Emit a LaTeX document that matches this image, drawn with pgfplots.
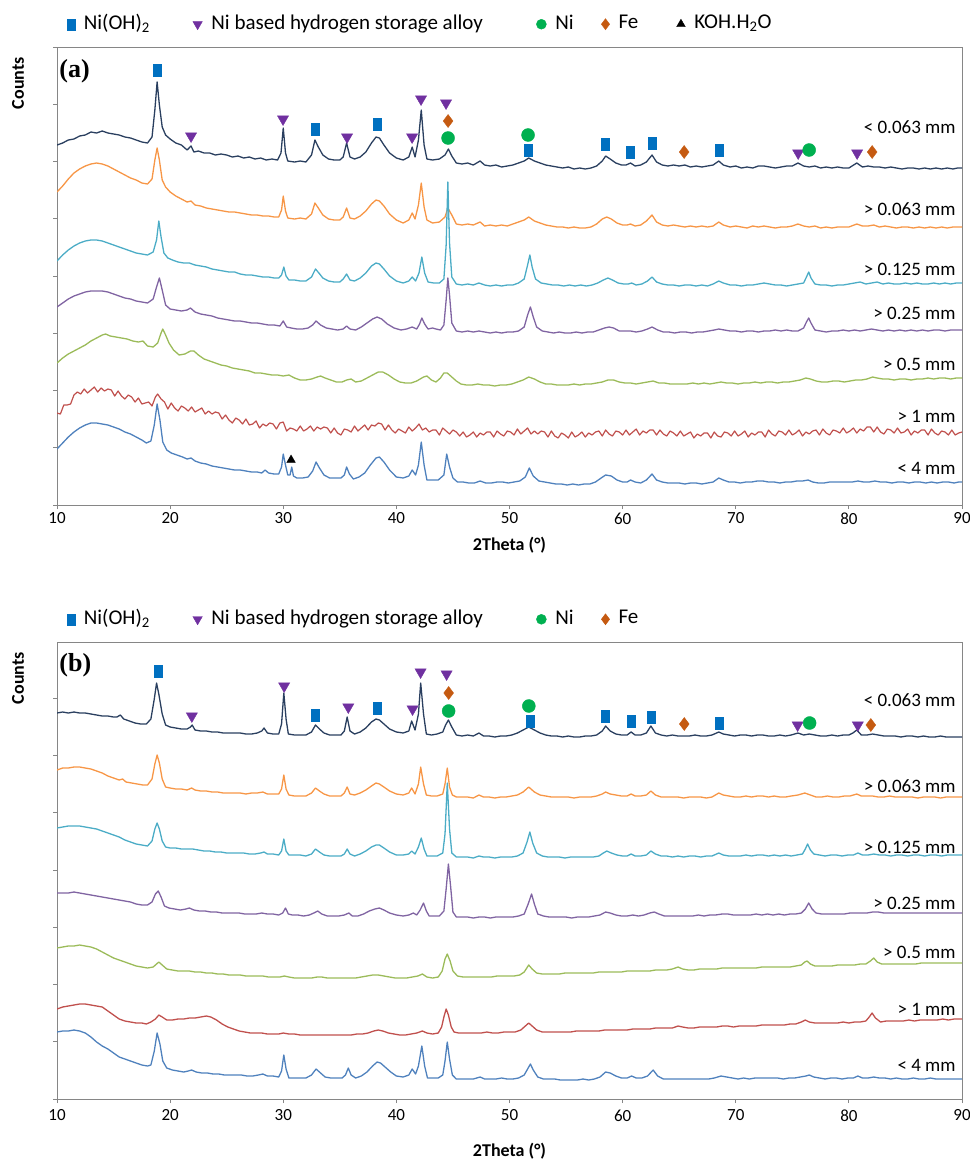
\documentclass[border=0pt]{standalone}
\usepackage{fontspec}
\setmainfont{Carlito}
\newfontfamily\timesfont{Liberation Serif}
\usepackage{pgfplots}
\pgfplotsset{compat=1.18}

\definecolor{cNavy}{HTML}{2A3F5F}
\definecolor{cOrange}{HTML}{F79646}
\definecolor{cAqua}{HTML}{4BACC6}
\definecolor{cPurple}{HTML}{8064A2}
\definecolor{cGreen}{HTML}{9BBB59}
\definecolor{cRed}{HTML}{C0504D}
\definecolor{cBlue}{HTML}{4F81BD}
\definecolor{mSq}{HTML}{0070C0}
\definecolor{mTri}{HTML}{7030A0}
\definecolor{mCirc}{HTML}{00B050}
\definecolor{mDia}{HTML}{C55A11}
\definecolor{axgray}{HTML}{868686}

\tikzset{lab/.style={anchor=east, font=\fontsize{19}{19}\selectfont, inner sep=0pt}}

\pgfplotsset{
  xrd/.style={
    scale only axis, width=905pt, height=458pt,
    xmin=10, xmax=90, ymin=0, ymax=458,
    xtick={10,20,...,90}, ytick={0,57.25,...,458}, yticklabels={},
    xtick pos=bottom, ytick pos=left, tick align=outside,
    major tick length=4pt,
    axis line style={axgray, line width=1pt},
    tick style={axgray, line width=0.8pt},
    /pgf/number format/assume math mode=true,
    xticklabel style={font=\fontsize{17}{17}\selectfont},
    xlabel={\textbf{2Theta (°)}},
    xlabel style={font=\fontsize{18}{18}\selectfont, at={(axis description cs:0.5,0)}, anchor=center},
    ylabel={\textbf{Counts}},
    ylabel style={font=\fontsize{18}{18}\selectfont, at={(axis description cs:-0.043,0.921)}, anchor=center},
    legend columns=-1,
    legend cell align=left,
    legend image code/.code={\draw[#1] plot coordinates {(0pt,-1.5pt)};},
    legend style={draw=none, fill=none, at={(axis description cs:0.011,1.053)}, anchor=west,
      font=\fontsize{21}{24}\selectfont, inner sep=0pt, nodes={inner sep=0pt},
      /tikz/every odd column/.append style={column sep=9pt},
      /tikz/every even column/.append style={column sep=0pt}},
  },
  trace/.style={line width=1.3pt, forget plot, line join=round},
  sqm/.style={only marks, forget plot, mark=square*, mark size=6pt, color=mSq, mark options={xscale=0.68}},
  trim/.style={only marks, forget plot, mark=triangle*, mark size=6.5pt, color=mTri, mark options={rotate=180}},
  cim/.style={only marks, forget plot, mark=*, mark size=6.5pt, color=mCirc},
  dim/.style={only marks, forget plot, mark=diamond*, mark size=6.5pt, color=mDia},
}

\begin{document}
\begin{tikzpicture}
\useasboundingbox (0,0) rectangle (970pt,-1163pt);

% ---------------- panel (a) ----------------
\begin{axis}[xrd, at={(57pt,-505pt)}, anchor=south west,
  xlabel style={yshift=-40pt}]

\addlegendimage{mark=square*, mark size=5.5pt, mark options={xscale=0.7}, color=mSq}
\addlegendentry{\makebox[109pt][l]{Ni(OH)\textsubscript{2}}}
\addlegendimage{mark=triangle*, mark size=5.5pt, mark options={rotate=180}, color=mTri}
\addlegendentry{\makebox[325pt][l]{Ni based hydrogen storage alloy}}
\addlegendimage{mark=*, mark size=5pt, color=mCirc}
\addlegendentry{\makebox[46pt][l]{Ni}}
\addlegendimage{mark=diamond*, mark size=5.5pt, color=mDia}
\addlegendentry{\makebox[58pt][l]{Fe}}
\addlegendimage{mark=triangle*, mark size=5pt, color=black}
\addlegendentry{KOH.H\textsubscript{2}O}

% < 0.063 mm
\addplot[trace, cNavy] coordinates {
(10,360)(10.5,362)(11,365)(11.5,366)(12,369)(12.5,370)(13,373)(13.5,372)(14,374)(14.5,372)(15,371)(15.5,370)
(16,368)(16.5,367)(17,365)(17.5,363)(18,362)(18.4,368)(18.65,395)(18.85,423)(19.05,400)(19.3,378)(19.6,370)
(20,366)(20.5,362)(21,360)(21.5,355)(21.85,359)(22.1,353)(22.5,354)(23,352)(23.5,352)(24,350)(24.5,351)
(25,350)(25.5,348)(26,349)(26.5,347)(27,348)(27.5,346)(28,347)(28.5,345)(29,346)(29.5,345)(29.8,352)(30,377)
(30.2,352)(30.4,344)(31,343)(31.5,344)(32,343)(32.5,350)(32.8,365)(33.1,358)(33.5,350)(34,346)(34.5,345)
(35,345)(35.3,348)(35.6,362)(35.9,348)(36.3,346)(36.8,348)(37.3,353)(37.8,362)(38.2,368)(38.5,367)(38.9,360)
(39.4,352)(40,347)(40.6,345)(41.1,348)(41.4,358)(41.65,348)(41.95,365)(42.2,395)(42.45,360)(42.7,346)
(43.2,345)(43.8,346)(44.3,350)(44.6,356)(44.9,349)(45.3,342)(45.8,341)(46.3,342)(46.8,340)(47.4,344)
(47.8,340)(48.3,339)(48.8,340)(49.3,338)(49.8,339)(50.3,340)(50.8,342)(51.3,344)(51.7,347)(52.2,344)
(52.7,342)(53.2,340)(53.7,339)(54.2,338)(54.7,337)(55.2,338)(55.7,336)(56.2,337)(56.7,336)(57.2,337)
(57.7,339)(58.2,344)(58.5,349)(58.9,346)(59.4,342)(59.9,340)(60.3,340)(60.7,342)(61.1,339)(61.6,340)
(62.1,343)(62.6,350)(63,343)(63.5,340)(64,339)(64.5,340)(65,339)(65.5,340)(66,338)(66.5,339)(67,338)
(67.5,339)(68,340)(68.5,344)(68.9,340)(69.5,338)(70,339)(70.5,337)(71,338)(71.5,337)(72,339)(72.5,339)
(73,338)(73.5,337)(74,338)(74.5,339)(75,339)(75.5,342)(76,339)(76.5,338)(77,339)(77.5,337)(78,338)
(78.5,337)(79,338)(79.5,337)(80,337)(80.7,342)(81.2,338)(81.7,339)(82.2,338)(82.7,338)(83.2,337)
(83.7,338)(84.2,337)(84.7,336)(85.2,337)(85.7,337)(86.2,336)(86.7,337)(87.2,336)(87.7,337)(88.2,336)
(88.7,337)(89.2,336)(89.6,337)(90,337)};

% > 0.063 mm
\addplot[trace, cOrange] coordinates {
(10,313)(10.5,319)(11,326)(11.5,332)(12,336)(12.5,339)(13,341)(13.5,342)(14,341)(14.5,339)(15,336)(15.5,333)
(16,330)(16.5,327)(17,325)(17.5,322)(18,321)(18.4,326)(18.65,345)(18.85,357)(19.05,345)(19.3,325)(19.6,318)
(20,313)(20.5,309)(21,306)(21.5,303)(21.85,304)(22.2,300)(22.7,299)(23.2,297)(23.7,296)(24.2,295)(24.7,294)
(25.2,293)(25.7,293)(26.2,292)(26.7,291)(27.2,290)(27.7,290)(28.2,289)(28.7,289)(29.2,288)(29.6,288)
(29.85,295)(30,309)(30.2,294)(30.4,287)(31,286)(31.5,287)(32,286)(32.5,291)(32.8,302)(33.1,297)(33.5,290)
(34,286)(34.5,285)(35,285)(35.3,288)(35.6,297)(35.9,287)(36.3,286)(36.8,289)(37.3,294)(37.8,301)(38.2,305)
(38.5,304)(38.9,299)(39.4,291)(40,285)(40.6,282)(41.1,285)(41.4,292)(41.65,286)(41.95,300)(42.2,322)
(42.45,298)(42.7,285)(43.2,282)(43.8,283)(44.3,288)(44.55,297)(44.9,290)(45.3,281)(45.8,280)(46.3,281)
(46.8,280)(47.4,283)(47.8,279)(48.3,280)(48.8,279)(49.3,280)(49.8,279)(50.3,281)(50.8,283)(51.3,285)
(51.7,288)(52.2,284)(52.7,282)(53.2,280)(53.7,279)(54.2,278)(54.7,278)(55.2,277)(55.7,278)(56.2,277)
(56.7,277)(57.2,278)(57.7,281)(58.2,286)(58.6,288)(59,286)(59.5,282)(60,280)(60.4,280)(60.7,281)(61.1,279)
(61.6,280)(62.1,284)(62.6,290)(63,283)(63.5,280)(64,279)(64.5,280)(65,279)(65.5,278)(66,279)(66.5,278)
(67,279)(67.5,278)(68,279)(68.5,283)(68.9,280)(69.5,278)(70,279)(70.5,278)(71,277)(71.5,279)(72,278)
(72.5,279)(73,278)(73.5,277)(74,278)(74.5,278)(75,279)(75.5,281)(76,279)(76.5,278)(77,279)(77.5,277)
(78,278)(78.5,277)(79,278)(79.5,278)(80,278)(80.7,281)(81.2,279)(81.7,279)(82.2,280)(82.7,278)(83.2,279)
(83.7,278)(84.2,277)(84.7,278)(85.2,278)(85.7,277)(86.2,278)(86.7,277)(87.2,278)(87.7,277)(88.2,278)
(88.7,277)(89.2,278)(89.6,278)(90,278)};

% > 0.125 mm
\addplot[trace, cAqua] coordinates {
(10,244)(10.5,250)(11,255)(11.5,259)(12,262)(12.5,264)(13,265)(13.5,265)(14,264)(14.5,262)(15,260)(15.5,258)
(16,256)(16.5,254)(17,252)(17.5,251)(18,250)(18.5,253)(18.8,265)(19,284)(19.2,268)(19.45,252)(19.8,247)
(20.2,245)(20.7,243)(21.2,242)(21.7,242)(22.2,240)(22.7,239)(23.2,238)(23.7,236)(24.2,235)(24.7,234)
(25.2,233)(25.7,233)(26.2,231)(26.7,230)(27.2,230)(27.7,229)(28.2,228)(28.7,228)(29.2,227)(29.6,227)
(29.85,230)(30.05,238)(30.25,229)(30.5,225)(31,225)(31.5,224)(32,224)(32.5,228)(32.85,236)(33.15,232)
(33.5,227)(34,224)(34.5,223)(35,223)(35.3,226)(35.6,231)(35.9,225)(36.3,224)(36.8,227)(37.3,232)(37.8,239)
(38.2,242)(38.5,241)(38.9,236)(39.4,229)(40,224)(40.6,222)(41.1,224)(41.4,228)(41.7,224)(42,232)(42.25,248)
(42.5,232)(42.8,223)(43.3,222)(43.8,222)(44.2,226)(44.4,260)(44.55,323)(44.7,262)(44.9,228)(45.3,221)
(45.8,220)(46.3,221)(46.8,220)(47.3,222)(47.8,220)(48.3,219)(48.8,220)(49.3,219)(49.8,220)(50.3,220)
(50.8,222)(51.3,226)(51.6,240)(51.8,250)(52,238)(52.3,226)(52.8,222)(53.3,221)(53.8,220)(54.3,220)
(54.8,219)(55.3,220)(55.8,219)(56.3,220)(56.8,219)(57.3,220)(57.8,222)(58.3,225)(58.7,227)(59.1,225)
(59.6,222)(60.1,221)(60.5,221)(60.8,222)(61.2,220)(61.7,221)(62.2,224)(62.6,228)(63,223)(63.5,221)(64,220)
(64.5,220)(65,219)(65.5,220)(66,220)(66.5,219)(67,220)(67.5,219)(68,221)(68.5,224)(68.9,222)(69.5,220)
(70,220)(70.5,219)(71,220)(71.5,220)(72,221)(72.5,222)(73,221)(73.5,220)(74,220)(74.5,219)(75,220)
(75.5,221)(76,222)(76.25,228)(76.45,233)(76.65,227)(77,221)(77.5,220)(78,220)(78.5,219)(79,220)(79.5,220)
(80,221)(80.5,222)(81,223)(81.5,221)(82,222)(82.5,223)(83,221)(83.5,222)(84,221)(84.5,221)(85,222)
(85.5,221)(86,222)(86.5,221)(87,221)(87.5,222)(88,221)(88.5,222)(89,221)(89.5,222)(90,222)};

% > 0.25 mm
\addplot[trace, cPurple] coordinates {
(10,198)(10.5,202)(11,206)(11.5,209)(12,211)(12.5,213)(13,214)(13.5,214)(14,214)(14.5,213)(15,211)(15.5,209)
(16,207)(16.5,206)(17,204)(17.5,203)(18,202)(18.5,206)(18.8,218)(19.05,227)(19.3,215)(19.6,200)(20,196)
(20.5,195)(21,194)(21.5,195)(21.8,197)(22.2,193)(22.7,191)(23.2,190)(23.7,189)(24.2,187)(24.7,186)
(25.2,185)(25.7,184)(26.2,184)(26.7,183)(27.2,182)(27.7,182)(28.2,181)(28.7,180)(29.2,180)(29.7,179)
(30,184)(30.3,178)(30.7,177)(31.2,176)(31.7,176)(32.2,177)(32.6,180)(32.9,184)(33.3,180)(33.8,177)
(34.3,176)(34.8,175)(35.3,176)(35.6,179)(35.9,176)(36.4,175)(36.9,178)(37.4,182)(37.9,186)(38.3,188)
(38.7,186)(39.2,181)(39.8,177)(40.4,175)(40.9,176)(41.4,178)(41.8,176)(42.05,181)(42.25,187)(42.5,181)
(42.8,176)(43.2,177)(43.5,176)(43.9,175)(44.2,180)(44.4,205)(44.55,227)(44.7,210)(44.9,182)(45.3,174)
(45.8,173)(46.3,174)(46.8,173)(47.3,174)(47.8,173)(48.3,172)(48.8,173)(49.3,172)(49.8,173)(50.3,173)
(50.8,174)(51.3,178)(51.6,190)(51.85,198)(52.1,188)(52.4,178)(52.9,174)(53.4,173)(53.9,172)(54.4,173)
(54.9,172)(55.4,172)(55.9,173)(56.4,172)(56.9,173)(57.4,173)(57.9,175)(58.4,177)(58.8,178)(59.2,177)
(59.7,174)(60.2,174)(60.7,174)(61.2,173)(61.7,174)(62.2,176)(62.6,178)(63.1,175)(63.6,173)(64.1,173)
(64.6,172)(65.1,173)(65.6,173)(66.1,172)(66.6,173)(67.1,173)(67.6,174)(68.1,175)(68.5,176)(69,175)
(69.5,174)(70,174)(70.5,173)(71,174)(71.5,174)(72,173)(72.5,174)(73,174)(73.5,175)(74,174)(74.5,175)
(75,174)(75.5,174)(76,177)(76.25,183)(76.45,187)(76.65,182)(77,175)(77.5,174)(78,173)(78.5,174)(79,174)
(79.5,175)(80,174)(80.5,175)(81,174)(81.5,175)(82,176)(82.5,175)(83,174)(83.5,175)(84,174)(84.5,175)
(85,174)(85.5,175)(86,174)(86.5,175)(87,174)(87.5,175)(88,175)(88.5,174)(89,175)(89.5,175)(90,175)};

% > 0.5 mm
\addplot[trace, cGreen] coordinates {
(10,142)(10.5,147)(11,151)(11.5,154)(12,157)(12.5,160)(13,164)(13.5,167)(14,170)(14.3,171)(14.7,169)
(15.2,168)(15.7,167)(16.2,166)(16.7,164)(17.2,163)(17.6,164)(18,159)(18.5,158)(18.9,162)(19.2,172)
(19.35,176)(19.6,170)(19.9,162)(20.3,155)(20.8,150)(21.3,151)(21.8,154)(22.1,154)(22.5,150)(23,146)
(23.5,144)(24,142)(24.5,140)(25,139)(25.5,137)(26,136)(26.5,135)(27,134)(27.5,132)(28,132)(28.5,131)
(29,130)(29.5,130)(30,129)(30.5,130)(31,127)(31.5,125)(32,125)(32.5,126)(33,128)(33.3,129)(33.7,127)
(34.2,125)(34.7,123)(35.2,123)(35.6,125)(36,126)(36.4,123)(36.9,124)(37.4,127)(37.9,130)(38.4,133)
(38.8,133)(39.3,130)(39.8,126)(40.3,123)(40.8,122)(41.3,122)(41.8,124)(42.4,128)(42.7,129)(43.1,125)
(43.5,123)(43.9,127)(44.2,132)(44.5,132)(44.9,128)(45.3,124)(45.7,121)(46.2,120)(46.7,120)(47.2,121)
(47.7,120)(48.2,120)(48.7,119)(49.2,120)(49.7,120)(50.2,121)(50.7,123)(51.2,125)(51.7,128)(52.2,126)
(52.7,123)(53.2,121)(53.7,121)(54.2,120)(54.7,120)(55.2,120)(55.7,121)(56.2,120)(56.7,121)(57.2,121)
(57.7,122)(58.2,123)(58.7,125)(59.2,125)(59.7,123)(60.2,122)(60.7,122)(61.2,121)(61.7,122)(62.2,123)
(62.7,124)(63.2,122)(63.7,122)(64.2,121)(64.7,121)(65.2,121)(65.7,121)(66.2,122)(66.7,121)(67.2,122)
(67.7,121)(68.2,122)(68.7,123)(69.2,122)(69.7,122)(70.2,121)(70.7,122)(71.2,122)(71.7,123)(72.2,122)
(72.7,123)(73.2,123)(73.7,122)(74.2,123)(74.7,123)(75.2,124)(75.7,125)(76.2,127)(76.6,126)(77.1,124)
(77.6,123)(78.1,123)(78.6,124)(79.1,124)(79.6,123)(80.1,124)(80.6,125)(81.1,125)(81.6,126)(82.1,128)
(82.5,127)(83,126)(83.5,126)(84,125)(84.5,126)(85,126)(85.5,125)(86,126)(86.5,126)(87,127)(87.5,126)
(88,127)(88.5,127)(89,126)(89.5,127)(90,127)};

% > 1 mm
\addplot[trace, cRed, line width=1.2pt] coordinates {
(10,92)(10.3,91)(10.6,100)(10.9,100)(11.2,101)(11.5,110)(11.8,113)(12.1,111)(12.4,116)(12.7,112)(13,115)
(13.3,118)(13.6,113)(13.9,117)(14.2,114)(14.5,116)(14.8,115)(15.1,109)(15.4,114)(15.7,109)(16,106)(16.3,110)
(16.6,108)(16.9,103)(17.2,107)(17.5,101)(17.8,102)(18.1,103)(18.4,99)(18.7,108)(18.9,111)(19.2,106)(19.5,103)
(19.8,96)(20.1,102)(20.4,97)(20.7,94)(21,99)(21.3,97)(21.6,94)(21.9,98)(22.2,93)(22.5,95)(22.8,97)(23.1,91)
(23.4,94)(23.7,91)(24,93)(24.3,92)(24.6,86)(24.9,90)(25.2,85)(25.5,82)(25.8,87)(26.1,85)(26.4,81)(26.7,86)
(27,80)(27.3,81)(27.6,84)(27.9,77)(28.2,81)(28.5,79)(28.8,82)(29.1,81)(29.4,76)(29.7,82)(30,83)(30.3,74)
(30.6,77)(30.9,76)(31.2,74)(31.5,79)(31.8,74)(32.1,76)(32.4,79)(32.7,74)(33,78)(33.3,76)(33.6,78)(33.9,77)
(34.2,72)(34.5,77)(34.8,72)(35.1,70)(35.4,76)(35.7,75)(36,73)(36.3,79)(36.6,74)(36.9,77)(37.2,80)(37.5,75)
(37.8,80)(38.1,79)(38.4,82)(38.7,81)(39,75)(39.3,80)(39.6,75)(39.9,72)(40.2,76)(40.5,74)(40.8,72)(41.1,78)
(41.4,74)(41.7,77)(42,81)(42.3,75)(42.6,77)(42.9,73)(43.2,75)(43.5,75)(43.8,70)(44.1,77)(44.4,74)(44.7,71)
(45,75)(45.3,73)(45.6,69)(45.9,73)(46.2,68)(46.5,70)(46.8,73)(47.1,68)(47.4,72)(47.7,70)(48,73)(48.3,73)
(48.6,68)(48.9,74)(49.2,71)(49.5,69)(49.8,74)(50.1,73)(50.4,70)(50.7,76)(51,71)(51.3,74)(51.6,77)(51.9,71)
(52.2,74)(52.5,71)(52.8,74)(53.1,73)(53.4,68)(53.7,74)(54,69)(54.3,67)(54.6,72)(54.9,70)(55.2,67)(55.5,73)
(55.8,68)(56.1,70)(56.4,73)(56.7,68)(57,72)(57.3,70)(57.6,73)(57.9,74)(58.2,69)(58.5,75)(58.8,71)(59.1,69)
(59.4,74)(59.7,73)(60,70)(60.3,75)(60.6,70)(60.9,73)(61.2,76)(61.5,70)(61.8,74)(62.1,72)(62.4,75)(62.7,75)
(63,70)(63.3,75)(63.6,71)(63.9,69)(64.2,74)(64.5,72)(64.8,69)(65.1,74)(65.4,69)(65.7,71)(66,73)(66.3,67)
(66.6,71)(66.9,69)(67.2,72)(67.5,72)(67.8,67)(68.1,73)(68.4,69)(68.7,68)(69,73)(69.3,72)(69.6,69)(69.9,74)
(70.2,69)(70.5,71)(70.8,74)(71.1,68)(71.4,72)(71.7,70)(72,73)(72.3,73)(72.6,68)(72.9,75)(73.2,71)(73.5,69)
(73.8,74)(74.1,73)(74.4,70)(74.7,75)(75,70)(75.3,72)(75.6,75)(75.9,69)(76.2,73)(76.5,71)(76.8,74)(77.1,75)
(77.4,70)(77.7,76)(78,72)(78.3,70)(78.6,75)(78.9,74)(79.2,72)(79.5,77)(79.8,72)(80.1,74)(80.4,77)(80.7,72)
(81,76)(81.3,74)(81.6,78)(81.9,78)(82.2,73)(82.5,78)(82.8,73)(83.1,71)(83.4,76)(83.7,75)(84,72)(84.3,77)
(84.6,72)(84.9,73)(85.2,76)(85.5,70)(85.8,74)(86.1,72)(86.4,75)(86.7,75)(87,70)(87.3,76)(87.6,72)(87.9,70)
(88.2,74)(88.5,73)(88.8,70)(89.1,75)(89.4,70)(89.7,72)(90,73)};

% < 4 mm
\addplot[trace, cBlue] coordinates {
(10,56)(10.5,62)(11,68)(11.5,73)(12,77)(12.5,80)(13,82)(13.5,82)(14,81)(14.5,80)(15,78)(15.5,76)(16,73)
(16.5,71)(17,68)(17.5,65)(17.9,62)(18.3,64)(18.6,80)(18.85,101)(19.1,85)(19.35,63)(19.7,55)(20.1,52)
(20.6,50)(21.1,48)(21.5,46)(21.85,47)(22.2,44)(22.7,42)(23.2,41)(23.7,39)(24.2,38)(24.7,37)(25.2,36)
(25.7,35)(26.2,35)(26.7,34)(27.2,33)(27.7,33)(28.1,32)(28.4,35)(28.7,32)(29.2,31)(29.6,31)(29.85,38)
(30,51)(30.2,40)(30.4,30)(30.6,30)(30.75,38)(30.9,29)(31.2,27)(31.7,27)(32.2,28)(32.6,34)(32.9,43)
(33.2,37)(33.6,30)(34.1,27)(34.6,27)(35.1,27)(35.4,30)(35.6,38)(35.85,31)(36.2,26)(36.7,28)(37.2,32)
(37.7,40)(38.2,47)(38.5,48)(38.9,43)(39.4,35)(40,28)(40.6,27)(41.1,29)(41.4,35)(41.7,30)(41.95,40)
(42.2,63)(42.45,40)(42.7,25)(43.2,25)(43.7,25)(44.2,30)(44.45,51)(44.7,38)(45,27)(45.4,23)(45.9,23)
(46.4,22)(46.9,22)(47.4,24)(47.9,22)(48.4,22)(48.9,23)(49.4,23)(49.9,22)(50.4,23)(50.9,24)(51.4,28)
(51.75,37)(52.1,29)(52.6,24)(53.1,23)(53.6,22)(54.1,21)(54.6,21)(55.1,20)(55.6,21)(56.1,20)(56.6,21)
(57.1,21)(57.6,23)(58.1,27)(58.5,30)(59,29)(59.5,25)(60,23)(60.4,23)(60.7,25)(61.1,23)(61.6,22)(62.1,25)
(62.6,31)(63,25)(63.5,23)(64,22)(64.5,22)(65,22)(65.5,21)(66,22)(66.5,22)(67,21)(67.5,22)(68,23)
(68.5,27)(68.9,25)(69.4,23)(69.9,23)(70.4,22)(70.9,23)(71.4,23)(71.9,24)(72.4,24)(72.9,23)(73.4,23)
(73.9,22)(74.4,23)(74.9,23)(75.4,24)(75.9,24)(76.4,25)(76.8,23)(77.3,22)(77.8,22)(78.3,23)(78.8,23)
(79.3,23)(79.8,23)(80.3,23)(80.8,24)(81.3,23)(81.8,23)(82.3,24)(82.8,23)(83.3,23)(83.8,22)(84.3,23)
(84.8,23)(85.3,22)(85.8,23)(86.3,23)(86.8,22)(87.3,23)(87.8,22)(88.3,23)(88.8,23)(89.3,22)(89.7,23)(90,23)};

% phase markers (a)
\addplot[sqm] coordinates {(18.88,435)(32.81,376)(38.29,381)(51.64,355)(58.45,361)(60.66,353)(62.61,362)(68.53,355)};
\addplot[trim] coordinates {(21.85,369)(29.98,386)(35.64,368)(41.39,368)(42.18,406)(44.39,402)(75.52,352)(80.73,352)};
\addplot[cim] coordinates {(44.57,367)(51.64,370)(76.49,355)};
\addplot[dim] coordinates {(44.57,384)(65.44,353)(82.06,353)};
\addplot[only marks, forget plot, mark=triangle*, mark size=5pt, black] coordinates {(30.69,45)};

\node[anchor=west, inner sep=0pt, font=\timesfont\bfseries\fontsize{26}{26}\selectfont] at (axis cs:10.2,434) {(a)};
\node[lab] at (axis cs:89.45,378) {< 0.063 mm};
\node[lab] at (axis cs:89.45,296) {> 0.063 mm};
\node[lab] at (axis cs:89.45,236) {> 0.125 mm};
\node[lab] at (axis cs:89.45,192) {> 0.25 mm};
\node[lab] at (axis cs:89.45,141) {> 0.5 mm};
\node[lab] at (axis cs:89.45,89) {> 1 mm};
\node[lab] at (axis cs:89.45,37) {< 4 mm};
\end{axis}

% ---------------- panel (b) ----------------
\begin{axis}[xrd, at={(57pt,-1099pt)}, anchor=south west, height=457pt, ymax=457,
  xticklabel style={yshift=-3pt}, xlabel style={yshift=-52pt}]

\addlegendimage{mark=square*, mark size=5.5pt, mark options={xscale=0.7}, color=mSq}
\addlegendentry{\makebox[109pt][l]{Ni(OH)\textsubscript{2}}}
\addlegendimage{mark=triangle*, mark size=5.5pt, mark options={rotate=180}, color=mTri}
\addlegendentry{\makebox[325pt][l]{Ni based hydrogen storage alloy}}
\addlegendimage{mark=*, mark size=5pt, color=mCirc}
\addlegendentry{\makebox[46pt][l]{Ni}}
\addlegendimage{mark=diamond*, mark size=5.5pt, color=mDia}
\addlegendentry{Fe}

% < 0.063 mm
\addplot[trace, cNavy] coordinates {
(10,386)(10.5,387)(11,386)(11.5,387)(12,386)(12.5,386)(13,385)(13.5,384)(14,383)(14.5,383)(15,382)(15.3,382)
(15.6,384)(15.9,380)(16.4,378)(16.9,376)(17.4,375)(17.9,375)(18.3,380)(18.6,400)(18.8,416)(19,405)(19.3,385)
(19.6,374)(20,372)(20.5,371)(21,370)(21.5,370)(21.8,372)(21.95,374)(22.2,369)(22.7,368)(23.2,368)(23.7,367)
(24.2,367)(24.7,366)(25.2,366)(25.7,366)(26.2,366)(26.7,365)(27.2,365)(27.7,366)(28.1,368)(28.3,371)
(28.6,366)(29.1,365)(29.6,365)(29.85,375)(30.05,406)(30.25,380)(30.45,365)(31,364)(31.5,364)(32,364)
(32.5,367)(32.85,374)(33.2,370)(33.6,366)(34.1,364)(34.6,364)(35.1,364)(35.4,368)(35.65,382)(35.9,368)
(36.3,365)(36.8,367)(37.3,371)(37.8,377)(38.2,380)(38.5,379)(38.9,375)(39.4,370)(40,367)(40.6,366)
(41.1,368)(41.35,378)(41.65,369)(41.95,385)(42.15,416)(42.4,385)(42.65,365)(43.1,364)(43.6,365)(44.1,367)
(44.35,374)(44.6,379)(44.9,372)(45.3,364)(45.8,363)(46.3,364)(46.8,363)(47.3,366)(47.7,363)(48.2,363)
(48.7,362)(49.2,363)(49.7,363)(50.2,364)(50.7,366)(51.2,369)(51.7,372)(52.2,369)(52.7,366)(53.2,364)
(53.7,363)(54.2,363)(54.7,362)(55.2,363)(55.7,362)(56.2,362)(56.7,363)(57.2,363)(57.7,364)(58.2,368)
(58.5,373)(58.9,368)(59.4,365)(59.9,364)(60.4,364)(60.75,367)(61.1,364)(61.6,364)(62.1,366)(62.5,373)
(62.9,366)(63.4,364)(63.9,363)(64.4,364)(64.9,363)(65.4,363)(65.9,363)(66.4,364)(66.9,363)(67.4,363)
(67.9,364)(68.5,367)(68.9,365)(69.4,364)(69.9,363)(70.4,364)(70.9,364)(71.4,363)(71.9,364)(72.4,364)
(72.9,363)(73.4,363)(73.9,364)(74.4,363)(74.9,364)(75.5,366)(76,364)(76.5,365)(77,364)(77.5,363)(78,363)
(78.5,364)(79,363)(79.5,364)(80,364)(80.35,366)(80.7,369)(81.1,364)(81.6,364)(82.1,365)(82.6,364)
(83.1,363)(83.6,363)(84.1,363)(84.6,362)(85.1,363)(85.6,363)(86.1,362)(86.6,363)(87.1,362)(87.6,362)
(88.1,363)(88.6,362)(89.1,362)(89.6,362)(90,362)};

% > 0.063 mm
\addplot[trace, cOrange] coordinates {
(10,329)(10.5,331)(11,331)(11.5,332)(12,332)(12.5,331)(13,330)(13.5,328)(14,326)(14.5,323)(15,321)(15.5,319)
(15.8,320)(16.1,317)(16.6,316)(17.1,315)(17.6,314)(18,314)(18.4,320)(18.65,335)(18.85,344)(19.05,336)
(19.3,320)(19.6,312)(20,311)(20.5,310)(21,310)(21.5,309)(21.9,311)(22.2,309)(22.7,308)(23.2,308)(23.7,307)
(24.2,307)(24.7,306)(25.2,306)(25.7,306)(26.2,306)(26.7,305)(27.2,306)(27.7,306)(28.2,307)(28.6,305)
(29.1,305)(29.6,305)(29.85,310)(30.05,324)(30.25,310)(30.5,304)(31,303)(31.5,303)(32,303)(32.5,306)
(32.85,311)(33.2,308)(33.6,305)(34.1,303)(34.6,303)(35.1,303)(35.4,306)(35.65,312)(35.9,305)(36.3,304)
(36.8,306)(37.3,309)(37.8,313)(38.2,316)(38.5,315)(38.9,312)(39.4,308)(40,305)(40.6,304)(41.1,306)
(41.35,311)(41.65,305)(41.95,315)(42.15,332)(42.4,315)(42.65,304)(43.1,303)(43.6,303)(44.1,305)(44.3,315)
(44.5,331)(44.7,312)(44.95,304)(45.3,302)(45.8,302)(46.3,302)(46.8,301)(47.3,304)(47.7,302)(48.2,302)
(48.7,301)(49.2,302)(49.7,302)(50.2,303)(50.7,304)(51.2,307)(51.7,312)(52.2,307)(52.7,304)(53.2,303)
(53.7,302)(54.2,302)(54.7,302)(55.2,302)(55.7,301)(56.2,302)(56.7,302)(57.2,302)(57.7,303)(58.2,305)
(58.5,307)(58.9,305)(59.4,304)(59.9,303)(60.4,303)(60.75,305)(61.1,303)(61.6,303)(62.1,304)(62.5,308)
(62.9,304)(63.4,302)(63.9,302)(64.4,302)(64.9,302)(65.4,301)(65.9,302)(66.4,302)(66.9,302)(67.4,301)
(67.9,302)(68.5,306)(68.9,304)(69.4,303)(69.9,302)(70.4,302)(70.9,303)(71.4,302)(71.9,303)(72.4,303)
(72.9,302)(73.4,303)(73.9,302)(74.4,302)(74.9,303)(75.5,304)(76.1,306)(76.6,304)(77.1,302)(77.6,302)
(78.1,303)(78.6,302)(79.1,302)(79.6,303)(80.1,303)(80.7,305)(81.1,303)(81.6,303)(82.1,303)(82.6,302)
(83.1,302)(83.6,303)(84.1,302)(84.6,302)(85.1,302)(85.6,302)(86.1,301)(86.6,302)(87.1,302)(87.6,302)
(88.1,301)(88.6,302)(89.1,302)(89.6,302)(90,302)};

% > 0.125 mm
\addplot[trace, cAqua] coordinates {
(10,271)(10.5,272)(11,273)(11.5,273)(12,273)(12.5,272)(13,271)(13.5,270)(14,268)(14.5,266)(15,264)(15.5,262)
(16,259)(16.5,257)(17,255)(17.5,254)(18,253)(18.4,258)(18.65,270)(18.85,276)(19.05,270)(19.3,258)(19.6,252)
(20,251)(20.5,251)(21,250)(21.5,250)(22,250)(22.5,249)(23,248)(23.5,248)(24,247)(24.5,247)(25,246)
(25.5,246)(26,246)(26.5,246)(27,245)(27.5,245)(28,246)(28.3,247)(28.6,245)(29.1,245)(29.6,244)(29.85,248)
(30.05,260)(30.25,248)(30.5,244)(31,244)(31.5,244)(32,243)(32.5,245)(32.85,250)(33.2,247)(33.6,244)
(34.1,243)(34.6,243)(35.1,243)(35.4,245)(35.65,250)(35.9,245)(36.3,243)(36.8,245)(37.3,248)(37.8,252)
(38.2,254)(38.5,254)(38.9,251)(39.4,247)(40,244)(40.6,244)(41.1,245)(41.35,248)(41.65,245)(41.95,252)
(42.2,261)(42.45,250)(42.7,243)(43.1,243)(43.6,243)(44.1,246)(44.3,265)(44.5,316)(44.7,270)(44.9,246)
(45.3,242)(45.8,242)(46.3,242)(46.8,241)(47.3,243)(47.7,242)(48.2,242)(48.7,241)(49.2,242)(49.7,242)
(50.2,242)(50.7,243)(51.2,246)(51.55,257)(51.8,267)(52.05,256)(52.4,246)(52.9,243)(53.4,242)(53.9,242)
(54.4,242)(54.9,241)(55.4,242)(55.9,242)(56.4,242)(56.9,242)(57.4,242)(57.9,243)(58.3,246)(58.6,248)
(59,246)(59.5,244)(60,243)(60.4,243)(60.75,245)(61.1,243)(61.6,243)(62.1,244)(62.5,248)(62.9,245)
(63.4,243)(63.9,243)(64.4,242)(64.9,243)(65.4,242)(65.9,243)(66.4,243)(66.9,242)(67.4,243)(67.9,243)
(68.5,246)(68.9,244)(69.4,243)(69.9,243)(70.4,243)(70.9,244)(71.4,243)(71.9,244)(72.4,244)(72.9,243)
(73.4,244)(73.9,243)(74.4,244)(74.9,243)(75.4,244)(75.9,245)(76.15,250)(76.35,255)(76.6,249)(76.9,245)
(77.4,244)(77.9,243)(78.4,244)(78.9,244)(79.4,243)(79.9,244)(80.4,244)(80.8,246)(81.2,244)(81.7,244)
(82.2,245)(82.7,244)(83.2,244)(83.7,243)(84.2,244)(84.7,244)(85.2,243)(85.7,244)(86.2,244)(86.7,243)
(87.2,244)(87.7,244)(88.2,243)(88.7,244)(89.2,244)(89.6,244)(90,244)};

% > 0.25 mm
\addplot[trace, cPurple] coordinates {
(10,206)(10.5,206)(11,206)(11.5,207)(12,206)(12.5,205)(13,204)(13.5,203)(14,202)(14.5,201)(15,200)(15.5,199)
(16,198)(16.5,197)(17,195)(17.5,194)(18,194)(18.4,197)(18.7,205)(18.95,208)(19.2,202)(19.5,193)(19.9,191)
(20.4,190)(20.9,189)(21.4,190)(21.7,191)(22.1,189)(22.6,188)(23.1,188)(23.6,187)(24.1,187)(24.6,186)
(25.1,186)(25.6,186)(26.1,186)(26.6,185)(27.1,185)(27.6,185)(28.1,186)(28.6,185)(29.1,185)(29.6,184)
(29.95,186)(30.2,191)(30.45,185)(30.8,184)(31.3,184)(31.8,183)(32.3,184)(32.7,186)(33.05,188)(33.4,185)
(33.9,183)(34.4,183)(34.9,183)(35.4,184)(35.8,186)(36.1,183)(36.6,183)(37.1,185)(37.6,188)(38.1,190)
(38.5,191)(38.9,189)(39.4,186)(40,184)(40.6,183)(41.1,184)(41.5,186)(41.8,184)(42.1,189)(42.4,196)
(42.65,188)(42.9,183)(43.3,183)(43.8,183)(44.2,188)(44.4,210)(44.6,235)(44.8,212)(45,187)(45.3,182)
(45.8,182)(46.3,182)(46.8,181)(47.3,182)(47.8,182)(48.3,181)(48.8,182)(49.3,182)(49.8,182)(50.3,182)
(50.8,183)(51.3,185)(51.65,195)(51.95,205)(52.2,195)(52.5,185)(53,183)(53.5,182)(54,182)(54.5,182)(55,182)
(55.5,181)(56,182)(56.5,182)(57,182)(57.5,183)(58,184)(58.5,187)(58.9,186)(59.4,184)(59.9,183)(60.4,183)
(60.9,184)(61.4,183)(61.9,184)(62.4,186)(62.8,187)(63.2,185)(63.7,183)(64.2,183)(64.7,183)(65.2,183)
(65.7,183)(66.2,183)(66.7,184)(67.2,183)(67.7,184)(68.2,184)(68.8,185)(69.3,185)(69.8,184)(70.3,184)
(70.8,184)(71.3,184)(71.8,185)(72.3,184)(72.8,185)(73.3,184)(73.8,185)(74.3,184)(74.8,185)(75.3,185)
(75.8,186)(76.15,190)(76.45,196)(76.75,190)(77.1,186)(77.6,185)(78.1,185)(78.6,185)(79.1,185)(79.6,185)
(80.1,186)(80.6,186)(81.1,186)(81.6,186)(82.1,187)(82.6,187)(83.1,186)(83.6,186)(84.1,186)(84.6,186)
(85.1,186)(85.6,186)(86.1,186)(86.6,186)(87.1,186)(87.6,186)(88.1,186)(88.6,186)(89.1,186)(89.6,186)(90,186)};

% > 0.5 mm
\addplot[trace, cGreen] coordinates {
(10,151)(10.5,152)(11,153)(11.5,153)(12,154)(12.5,153)(13,152)(13.5,150)(14,147)(14.5,144)(15,141)(15.5,139)
(16,137)(16.5,135)(17,133)(17.5,132)(18,131)(18.5,132)(18.8,135)(19,137)(19.3,134)(19.7,130)(20.2,129)
(20.7,128)(21.2,128)(21.7,128)(22.2,127)(22.7,127)(23.2,126)(23.7,126)(24.2,125)(24.7,125)(25.2,124)
(25.7,124)(26.2,124)(26.7,123)(27.2,123)(27.7,123)(28.2,123)(28.7,122)(29.2,122)(29.7,122)(30.1,123)
(30.5,122)(31,121)(31.5,121)(32,121)(32.5,121)(33,122)(33.4,122)(33.9,121)(34.4,121)(34.9,121)(35.4,121)
(35.9,121)(36.4,121)(36.9,122)(37.4,123)(37.9,124)(38.4,124)(38.9,123)(39.4,122)(39.9,121)(40.4,121)
(40.9,121)(41.4,122)(41.9,123)(42.3,125)(42.7,122)(43.2,121)(43.7,122)(44.05,128)(44.3,140)(44.5,145)
(44.75,138)(45,128)(45.4,123)(45.9,122)(46.4,122)(46.9,122)(47.4,122)(47.9,122)(48.4,122)(48.9,123)
(49.4,123)(49.9,123)(50.4,123)(50.9,124)(51.3,127)(51.7,134)(52,130)(52.4,126)(52.9,125)(53.4,125)
(53.9,125)(54.4,125)(54.9,126)(55.4,126)(55.9,126)(56.4,126)(56.9,126)(57.4,126)(57.9,127)(58.4,127)
(58.9,127)(59.4,127)(59.9,127)(60.4,128)(60.9,128)(61.4,128)(61.9,128)(62.4,128)(62.9,129)(63.4,129)
(63.9,129)(64.4,130)(64.9,132)(65.3,130)(65.8,129)(66.3,129)(66.8,130)(67.3,130)(67.8,130)(68.3,130)
(68.8,131)(69.3,131)(69.8,131)(70.3,131)(70.8,131)(71.3,131)(71.8,131)(72.3,132)(72.8,132)(73.3,132)
(73.8,132)(74.3,132)(74.8,132)(75.3,133)(75.8,134)(76.1,137)(76.3,138)(76.6,135)(77,133)(77.5,133)(78,133)
(78.5,133)(79,134)(79.5,134)(80,134)(80.5,134)(81,135)(81.5,135)(81.9,138)(82.2,141)(82.5,137)(82.9,135)
(83.4,135)(83.9,135)(84.4,135)(84.9,135)(85.4,135)(85.9,135)(86.4,136)(86.9,136)(87.4,136)(87.9,136)
(88.4,136)(88.9,136)(89.4,136)(90,136)};

% > 1 mm
\addplot[trace, cRed] coordinates {
(10,90)(10.5,92)(11,93)(11.5,94)(12,95)(12.5,95)(13,94)(13.5,93)(14,92)(14.5,88)(15,84)(15.5,80)(16,78)
(16.5,77)(17,76)(17.5,76)(17.9,75)(18.3,77)(18.7,80)(19,84)(19.3,82)(19.7,79)(20.2,79)(20.7,80)(21.2,80)
(21.7,81)(22.2,81)(22.7,82)(23.2,83)(23.6,82)(24.1,79)(24.6,75)(25.1,72)(25.6,70)(26.1,68)(26.6,67)
(27.1,66)(27.6,66)(28.1,66)(28.6,65)(29.1,65)(29.6,65)(30,66)(30.5,65)(31,65)(31.5,64)(32,64)(32.5,64)
(33,64)(33.5,64)(34,64)(34.5,64)(35,64)(35.5,64)(36,64)(36.5,65)(37,65)(37.5,66)(38,68)(38.4,69)(38.8,68)
(39.3,66)(39.8,65)(40.3,64)(40.8,64)(41.3,65)(41.8,66)(42.3,68)(42.7,66)(43.2,65)(43.7,66)(44,72)(44.2,82)
(44.4,90)(44.6,84)(44.85,72)(45.1,67)(45.5,66)(46,66)(46.5,66)(47,66)(47.5,66)(48,67)(48.5,66)(49,66)
(49.5,67)(50,67)(50.5,67)(51,69)(51.4,73)(51.7,76)(52,73)(52.4,69)(52.9,67)(53.4,67)(53.9,67)(54.4,67)
(54.9,67)(55.4,67)(55.9,68)(56.4,68)(56.9,68)(57.4,68)(57.9,68)(58.4,69)(58.9,69)(59.4,69)(59.9,69)
(60.4,69)(60.9,70)(61.4,70)(61.9,70)(62.4,70)(62.9,71)(63.4,71)(63.9,71)(64.4,71)(64.9,73)(65.3,72)
(65.8,71)(66.3,71)(66.8,72)(67.3,72)(67.8,72)(68.3,72)(68.8,73)(69.3,73)(69.8,72)(70.3,73)(70.8,73)
(71.3,73)(71.8,73)(72.3,74)(72.8,74)(73.3,74)(73.8,74)(74.3,74)(74.8,75)(75.3,75)(75.8,77)(76.15,79)
(76.5,77)(77,76)(77.5,76)(78,76)(78.5,76)(79,76)(79.5,77)(80,76)(80.5,77)(81,77)(81.5,78)(81.8,82)
(82.05,86)(82.35,81)(82.8,77)(83.3,78)(83.8,78)(84.3,78)(84.8,78)(85.3,79)(85.8,78)(86.3,79)(86.8,79)
(87.3,79)(87.8,79)(88.3,80)(88.8,79)(89.3,80)(90,80)};

% < 4 mm
\addplot[trace, cBlue] coordinates {
(10,67)(10.5,68)(11,68)(11.5,69)(12,68)(12.5,66)(13,62)(13.5,57)(14,53)(14.5,50)(15,46)(15.5,42)(16,40)
(16.5,38)(17,36)(17.5,34)(18,33)(18.3,34)(18.6,48)(18.85,66)(19.1,55)(19.35,38)(19.7,31)(20.2,29)
(20.7,28)(21.2,27)(21.6,28)(21.9,29)(22.3,27)(22.8,26)(23.3,26)(23.8,25)(24.3,25)(24.8,24)(25.3,24)
(25.8,24)(26.3,24)(26.8,23)(27.3,23)(27.8,24)(28.2,25)(28.6,23)(29.1,23)(29.6,22)(29.85,28)(30.05,44)
(30.25,30)(30.5,21)(31,21)(31.5,21)(32,21)(32.5,24)(32.9,30)(33.3,26)(33.7,22)(34.2,21)(34.7,21)(35.2,21)
(35.5,24)(35.75,31)(36,24)(36.4,21)(36.9,23)(37.4,27)(37.9,33)(38.3,37)(38.6,36)(39,32)(39.5,27)(40,23)
(40.6,22)(41.1,24)(41.4,30)(41.7,25)(41.95,33)(42.25,53)(42.5,33)(42.75,21)(43.2,21)(43.7,21)(44.1,24)
(44.3,38)(44.5,57)(44.7,40)(44.95,24)(45.3,20)(45.8,20)(46.3,20)(46.8,20)(47.4,22)(47.8,20)(48.3,20)
(48.8,20)(49.3,21)(49.8,20)(50.3,20)(50.8,21)(51.3,24)(51.6,30)(51.85,35)(52.1,29)(52.5,22)(53,20)
(53.5,20)(54,20)(54.5,19)(55,19)(55.5,19)(56,19)(56.5,20)(57,19)(57.5,20)(58,22)(58.5,27)(58.9,26)
(59.4,23)(59.9,21)(60.4,21)(60.8,23)(61.2,21)(61.7,21)(62.2,23)(62.7,29)(63.1,23)(63.6,20)(64.1,20)
(64.6,20)(65.1,20)(65.6,20)(66.1,20)(66.6,20)(67.1,20)(67.6,20)(68.1,21)(68.7,23)(69.2,22)(69.7,21)
(70.2,20)(70.7,21)(71.2,20)(71.7,21)(72.2,21)(72.7,21)(73.2,21)(73.7,21)(74.2,20)(74.7,21)(75.2,21)
(75.7,22)(76.2,23)(76.5,24)(76.9,22)(77.4,21)(77.9,20)(78.4,21)(78.9,21)(79.4,20)(79.9,21)(80.4,21)
(80.8,23)(81.2,21)(81.7,21)(82.2,22)(82.7,21)(83.2,21)(83.7,20)(84.2,21)(84.7,20)(85.2,20)(85.7,21)
(86.2,20)(86.7,20)(87.2,21)(87.7,20)(88.2,20)(88.7,20)(89.2,20)(89.6,20)(90,20)};

% phase markers (b)
\addplot[sqm] coordinates {(18.91,428)(32.83,384)(38.32,391)(51.8,378)(58.45,383)(60.76,378)(62.53,382)(68.56,376)};
\addplot[trim] coordinates {(21.92,383)(30.08,413)(35.75,392)(41.43,390)(42.14,427)(44.44,425)(75.47,374)(80.79,374)};
\addplot[cim] coordinates {(44.62,388)(51.71,393)(76.53,376)};
\addplot[dim] coordinates {(44.62,406)(65.45,375)(81.94,374)};

\node[anchor=west, inner sep=0pt, font=\timesfont\bfseries\fontsize{26}{26}\selectfont] at (axis cs:10.2,434) {(b)};
\node[lab] at (axis cs:89.45,399) {< 0.063 mm};
\node[lab] at (axis cs:89.45,313) {> 0.063 mm};
\node[lab] at (axis cs:89.45,252) {> 0.125 mm};
\node[lab] at (axis cs:89.45,196) {> 0.25 mm};
\node[lab] at (axis cs:89.45,147) {> 0.5 mm};
\node[lab] at (axis cs:89.45,90) {> 1 mm};
\node[lab] at (axis cs:89.45,34) {< 4 mm};
\end{axis}
\end{tikzpicture}
\end{document}
